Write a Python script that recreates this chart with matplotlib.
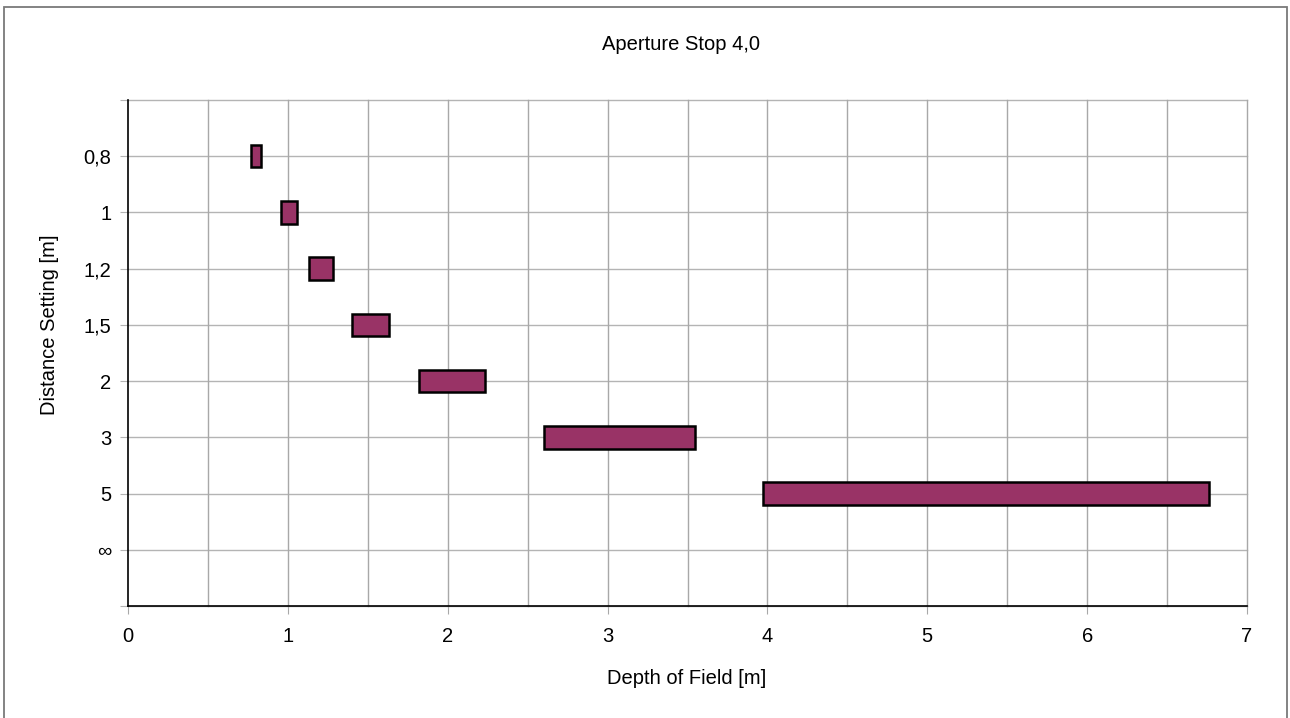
import matplotlib
matplotlib.use("Agg")
import matplotlib.pyplot as plt
from matplotlib.patches import Rectangle

# distance settings (categories) and depth of field limits [m]
settings = ["0,8", "1", "1,2", "1,5", "2", "3", "5", "∞"]
near = [0.77, 0.955, 1.135, 1.40, 1.82, 2.60, 3.97]
far = [0.835, 1.055, 1.28, 1.63, 2.235, 3.55, 6.76]
x_ticks = [0, 1, 2, 3, 4, 5, 6, 7]

plt.rcParams['font.family'] = ['Liberation Sans', 'DejaVu Sans']
fs = 14.5

fig = plt.figure(figsize=(12.9, 7.18), dpi=100)
ax = fig.add_axes([128/1290, 1 - 606/718, (1247 - 128)/1290, (606 - 100)/718])

# floating bars from near to far limit
for i in range(len(near)):
    ax.barh(i, far[i] - near[i], left=near[i], height=0.4,
            color="#993366", edgecolor="black", linewidth=1.8, zorder=3)

ax.set_xlim(0, 7)
ax.set_ylim(len(settings), -1)

# grid lines: horizontal at every category slot, vertical every 0.5
for y in range(-1, len(settings) + 1):
    ax.axhline(y, color="#b4b4b4", linewidth=1, zorder=1, clip_on=False)
for x in [v * 0.5 for v in range(1, 15)]:
    ax.axvline(x, color="#a8a8a8", linewidth=1, zorder=1, clip_on=False)

ax.set_yticks(range(-1, len(settings) + 1))
ax.set_yticklabels([""] + settings + [""])
ax.set_xticks(x_ticks)
ax.set_xticklabels([str(v) for v in x_ticks])
ax.tick_params(axis="y", length=6, color="#b4b4b4", labelsize=fs, pad=6)
ax.tick_params(axis="x", length=6, color="#a8a8a8", labelsize=fs, pad=9)

for s in ["top", "right"]:
    ax.spines[s].set_visible(False)
ax.spines["left"].set_color("black")
ax.spines["bottom"].set_color("black")
ax.spines["left"].set_linewidth(1.2)
ax.spines["bottom"].set_linewidth(1.2)

fig.text(687/1290, 1 - 678/718, "Depth of Field [m]", ha="center", va="center", fontsize=fs)
fig.text(50/1290, 1 - 325/718, "Distance Setting [m]", ha="center", va="center",
         rotation=90, fontsize=fs)
fig.text(681/1290, 1 - 45/718, "Aperture Stop 4,0", ha="center", va="center", fontsize=fs)

# outer chart frame (bottom edge lies below the image)
fig.patches.append(Rectangle((4/1290, -5/718), (1287 - 4)/1290, (711 + 5)/718,
                             transform=fig.transFigure, fill=False,
                             edgecolor="#7a7a7a", linewidth=1.3))

fig.savefig("out.png", dpi=100)
